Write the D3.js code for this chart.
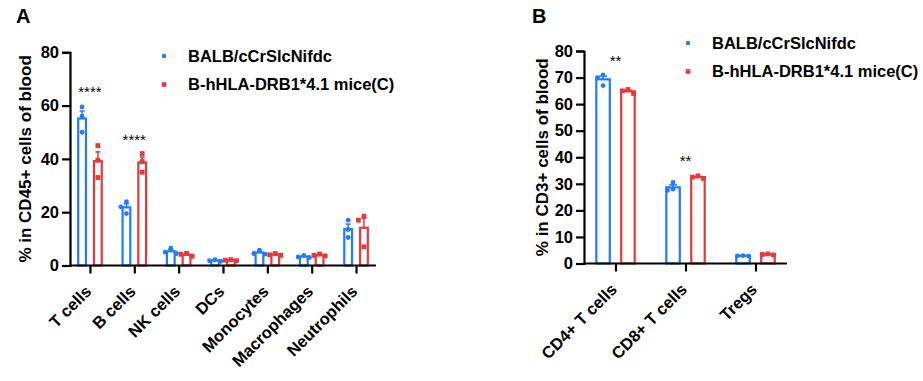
<!DOCTYPE html>
<html>
<head>
<meta charset="utf-8">
<script src="https://cdn.jsdelivr.net/npm/d3@7"></script>
<style>
  html, body { margin: 0; padding: 0; background: #fff; }
  svg { display: block; font-family: "Liberation Sans", Arial, sans-serif; }
</style>
</head>
<body>
<svg id="chart" width="923" height="381"></svg>
<script>
// ---------- DATA ----------
const seriesNames = ["BALB/cCrSlcNifdc", "B-hHLA-DRB1*4.1 mice(C)"];

// Panel A: % in CD45+ cells of blood
const categoriesA = ["T cells", "B cells", "NK cells", "DCs", "Monocytes", "Macrophages", "Neutrophils"];
const balbA = [[59.5, 56, 50], [24, 22, 19.5], [6.5, 5, 4.5], [2.2, 1.8, 1.6], [5.8, 4.5, 4.3], [3.8, 3.2, 3.0], [17, 13.5, 10.5]];
const drbA  = [[45, 39.5, 33], [42, 39, 35], [4.5, 4.2, 3.5], [2.2, 2.0, 1.8], [4.5, 4.0, 3.8], [4.3, 3.8, 3.6], [18.5, 17, 7]];
const yTicksA = [0, 20, 40, 60, 80];
const sigCatsA = ["T cells", "B cells"];
const sigLabelsA = ["****", "****"];
const sigValuesA = [65.8, 47.8];

// Panel B: % in CD3+ cells of blood
const categoriesB = ["CD4+ T cells", "CD8+ T cells", "Tregs"];
const balbB = [[71, 70, 67], [30.5, 28, 27.5], [3.0, 2.9, 2.8]];
const drbB  = [[65.5, 65, 64], [33, 32.5, 32], [3.6, 3.4, 3.2]];
const yTicksB = [0, 10, 20, 30, 40, 50, 60, 70, 80];
const sigCatsB = ["CD4+ T cells", "CD8+ T cells"];
const sigLabelsB = ["**", "**"];
const sigValuesB = [77, 39.2];

// ---------- STYLE ----------
const colors = ["#1F7BFF", "#E5393B"];
const svg = d3.select("#chart");
svg.append("rect").attr("width", 923).attr("height", 381).attr("fill", "#fff");

function drawPanel(cfg) {
  const g = svg.append("g");
  const x = d3.scalePoint().domain(cfg.categories).range(cfg.xRange).padding(0.45);
  const step = x.step();
  const inner = d3.scaleBand().domain([0, 1]).range([-step * 0.29, step * 0.29]).paddingInner(0.37);
  const y = d3.scaleLinear().domain([0, cfg.yMax]).range(cfg.yRange);
  const bw = inner.bandwidth();
  const sw = 2.2;
  const r = 2.4;

  // bars, error bars, points
  [cfg.s0, cfg.s1].forEach((series, si) => {
    const col = colors[si];
    series.forEach((pts, ci) => {
      const cat = cfg.categories[ci];
      const m = d3.mean(pts);
      const sem = d3.deviation(pts) / Math.sqrt(pts.length);
      const cx = x(cat) + inner(si) + bw / 2;
      g.append("rect")
        .attr("x", x(cat) + inner(si) + sw / 2)
        .attr("y", y(m))
        .attr("width", bw - sw)
        .attr("height", y(0) - y(m))
        .attr("fill", "none").attr("stroke", col).attr("stroke-width", sw);
      // error bar (upper)
      g.append("line").attr("x1", cx).attr("x2", cx).attr("y1", y(m)).attr("y2", y(m + sem))
        .attr("stroke", col).attr("stroke-width", 1.5);
      g.append("line").attr("x1", cx - bw * 0.25).attr("x2", cx + bw * 0.25)
        .attr("y1", y(m + sem)).attr("y2", y(m + sem))
        .attr("stroke", col).attr("stroke-width", 1.5);
      // points: simple swarm layout
      const placed = [];
      const d = 2 * r + 0.8;
      pts.slice().sort((a, b) => b - a).forEach(v => {
        const py = y(v);
        const cands = [0, -d, d, -2 * d, 2 * d];
        let px = 0;
        for (const c of cands) {
          if (placed.every(p => Math.hypot(p[0] - c, p[1] - py) >= d)) { px = c; break; }
        }
        placed.push([px, py]);
        if (si === 0) {
          g.append("circle").attr("cx", cx + px).attr("cy", py).attr("r", r).attr("fill", col);
        } else {
          g.append("rect").attr("x", cx + px - r).attr("y", py - r)
            .attr("width", 2 * r).attr("height", 2 * r).attr("fill", col);
        }
      });
    });
  });

  // axes
  const yAxis = d3.axisLeft(y).tickValues(cfg.yTicks).tickSize(8).tickPadding(3);
  const ya = g.append("g").attr("transform", `translate(${cfg.xRange[0]},0)`).call(yAxis);
  ya.select(".domain").attr("stroke", "#000").attr("stroke-width", 2.2);
  ya.selectAll(".tick line").attr("stroke", "#000").attr("stroke-width", 2.2);
  ya.selectAll(".tick text").attr("fill", "#000").attr("font-size", 16.5).attr("font-weight", "bold")
    .attr("font-family", "Liberation Sans, Arial, sans-serif");

  const xAxis = d3.axisBottom(x).tickSize(8).tickSizeOuter(0);
  const xa = g.append("g").attr("transform", `translate(0,${cfg.yRange[0]})`).call(xAxis);
  xa.select(".domain").attr("stroke", "#000").attr("stroke-width", 2.2)
    .attr("d", `M${cfg.xRange[0]},0H${cfg.xRange[1]}`);
  xa.selectAll(".tick line").attr("stroke", "#000").attr("stroke-width", 2.2);
  xa.selectAll(".tick text")
    .attr("fill", "#000").attr("font-size", 16.5).attr("font-weight", "bold")
    .attr("font-family", "Liberation Sans, Arial, sans-serif")
    .attr("x", 0).attr("y", 0).attr("dy", 0)
    .attr("text-anchor", "end")
    .attr("transform", "translate(2,27) rotate(-45)");

  // y title
  g.append("text")
    .attr("transform", `translate(${cfg.titleX},${(cfg.yRange[0] + cfg.yRange[1]) / 2}) rotate(-90)`)
    .attr("text-anchor", "middle").attr("dy", "0.35em")
    .attr("font-size", 17).attr("font-weight", "bold").text(cfg.title);

  // panel label
  g.append("text").attr("x", cfg.labelX).attr("y", 23)
    .attr("font-size", 20).attr("font-weight", "bold").text(cfg.label);

  // significance
  cfg.sigCats.forEach((c, i) => {
    g.append("text").attr("x", x(c)).attr("y", y(cfg.sigValues[i]) + 7)
      .attr("text-anchor", "middle").attr("font-size", 15).text(cfg.sigLabels[i]);
  });

  // legend
  seriesNames.forEach((name, i) => {
    const ly = cfg.legendY + i * 28.5;
    if (i === 0) {
      g.append("circle").attr("cx", cfg.legendX).attr("cy", ly).attr("r", 2.2).attr("fill", colors[0]);
    } else {
      g.append("rect").attr("x", cfg.legendX - 2.3).attr("y", ly - 2.3).attr("width", 4.6).attr("height", 4.6).attr("fill", colors[1]);
    }
    g.append("text").attr("x", cfg.legendX + 24).attr("y", ly).attr("dy", "0.35em")
      .attr("font-size", 16.5).attr("font-weight", "bold").text(name);
  });
}

drawPanel({
  categories: categoriesA, s0: balbA, s1: drbA, yTicks: yTicksA, yMax: 80,
  xRange: [70, 376], yRange: [265.5, 52.3],
  title: "% in CD45+ cells of blood", titleX: 25, label: "A", labelX: 16,
  sigCats: sigCatsA, sigLabels: sigLabelsA, sigValues: sigValuesA,
  legendX: 164, legendY: 56
});
drawPanel({
  categories: categoriesB, s0: balbB, s1: drbB, yTicks: yTicksB, yMax: 80,
  xRange: [584, 787], yRange: [263.5, 51],
  title: "% in CD3+ cells of blood", titleX: 542, label: "B", labelX: 532,
  sigCats: sigCatsB, sigLabels: sigLabelsB, sigValues: sigValuesB,
  legendX: 688, legendY: 43
});
</script>
</body>
</html>
